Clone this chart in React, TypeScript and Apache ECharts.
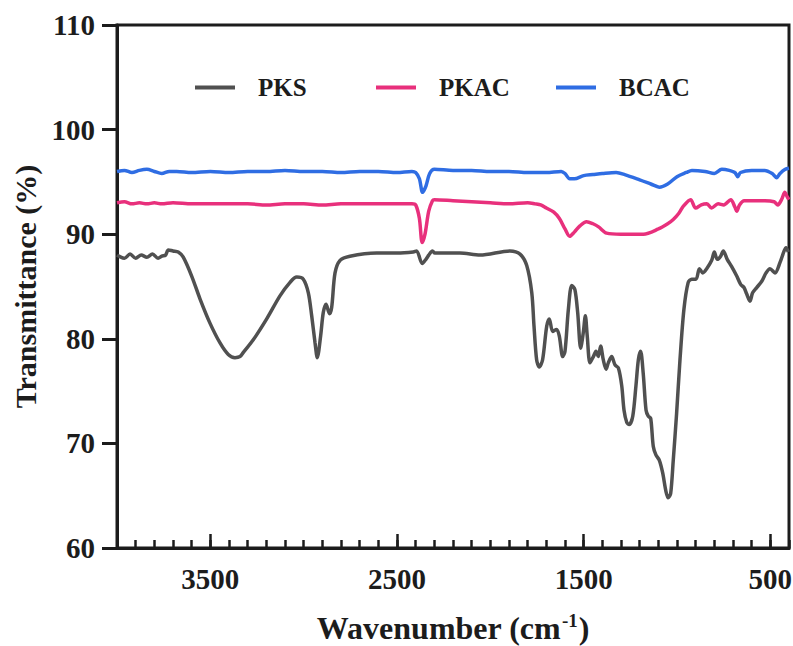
import React, { useEffect, useRef } from "react";
import * as echarts from "echarts";

// ---- data ----
const seriesNames = ["PKS", "PKAC", "BCAC"];
const seriesColors = ["#505050", "#e8307c", "#2f6de3"];

const pksWn = [4000, 3990, 3960, 3930, 3900, 3870, 3840, 3810, 3780, 3760, 3740, 3725, 3700, 3672, 3645, 3600, 3555, 3502, 3448, 3404, 3368, 3341, 3323, 3270, 3198, 3127, 3073, 3037, 3002, 2975, 2957, 2939, 2927, 2909, 2895, 2880, 2862, 2850, 2832, 2805, 2752, 2609, 2500, 2413, 2395, 2365, 2345, 2330, 2310, 2297, 2163, 2055, 1895, 1841, 1805, 1778, 1766, 1752, 1738, 1720, 1698, 1684, 1666, 1645, 1631, 1612, 1600, 1582, 1564, 1547, 1532, 1516, 1502, 1491, 1481, 1466, 1448, 1434, 1422, 1409, 1395, 1380, 1368, 1350, 1332, 1314, 1296, 1284, 1269, 1256, 1237, 1220, 1207, 1195, 1181, 1166, 1154, 1141, 1127, 1113, 1095, 1077, 1059, 1047, 1034, 1020, 1002, 984, 963, 940, 921, 898, 880, 862, 841, 814, 800, 784, 766, 752, 731, 707, 680, 659, 641, 627, 609, 595, 573, 546, 523, 502, 475, 448, 426, 416, 404];
const pksT = [88.0, 87.9, 87.7, 88.1, 87.7, 88.0, 87.8, 88.1, 87.7, 87.9, 88.0, 88.5, 88.4, 88.3, 87.8, 86.0, 83.8, 81.5, 79.6, 78.5, 78.2, 78.3, 78.7, 79.9, 81.9, 84.1, 85.4, 85.9, 85.7, 84.4, 82.2, 79.6, 78.2, 80.3, 82.5, 83.3, 82.4, 83.0, 86.3, 87.5, 87.9, 88.2, 88.2, 88.3, 88.4, 87.2, 87.6, 88.0, 88.4, 88.2, 88.2, 88.0, 88.4, 88.1, 87.0, 84.4, 81.2, 78.0, 77.3, 78.0, 81.2, 81.9, 80.7, 80.9, 80.3, 78.3, 78.8, 82.8, 85.1, 84.7, 82.5, 79.1, 80.6, 82.2, 80.3, 77.7, 78.3, 78.8, 78.3, 79.3, 78.0, 77.1, 77.7, 78.3, 77.5, 77.2, 75.5, 73.2, 72.0, 71.8, 72.6, 75.5, 78.0, 78.8, 76.7, 73.2, 72.6, 72.4, 69.7, 68.9, 68.4, 67.2, 65.4, 64.8, 65.2, 68.4, 72.9, 78.0, 82.8, 85.4, 85.7, 85.7, 86.7, 86.3, 86.7, 87.5, 88.3, 87.6, 87.9, 88.4, 87.6, 86.9, 86.0, 85.2, 84.9, 84.3, 83.6, 84.4, 84.9, 85.5, 86.3, 86.7, 86.3, 87.3, 88.4, 88.7, 88.3];

const pkacWn = [4000, 3960, 3920, 3880, 3840, 3800, 3760, 3700, 3600, 3500, 3400, 3300, 3200, 3100, 3000, 2900, 2800, 2700, 2600, 2500, 2420, 2400, 2380, 2365, 2350, 2330, 2310, 2300, 2200, 2100, 2000, 1900, 1800, 1760, 1730, 1700, 1660, 1630, 1600, 1575, 1550, 1520, 1485, 1450, 1420, 1377, 1300, 1250, 1180, 1100, 1050, 1020, 990, 965, 927, 900, 870, 840, 815, 780, 750, 712, 690, 680, 665, 640, 600, 530, 480, 460, 440, 422, 410, 400];
const pkacT = [93.0, 93.1, 92.9, 93.0, 92.9, 93.0, 92.9, 93.0, 92.9, 92.9, 92.9, 92.9, 92.8, 92.9, 92.9, 92.8, 92.9, 92.9, 92.9, 92.9, 92.9, 92.8, 91.5, 89.2, 90.0, 92.2, 93.2, 93.3, 93.2, 93.1, 93.0, 92.9, 93.0, 92.9, 92.8, 92.5, 92.1, 91.5, 90.5, 89.8, 90.2, 90.8, 91.2, 91.0, 90.7, 90.1, 90.0, 90.0, 90.0, 90.5, 91.0, 91.4, 92.0, 92.7, 93.3, 92.5, 92.8, 92.9, 92.5, 92.9, 92.8, 93.3, 92.6, 92.2, 92.8, 93.2, 93.2, 93.2, 93.1, 92.8, 93.3, 94.0, 93.6, 93.3];

const bcacWn = [4000, 3960, 3920, 3880, 3840, 3800, 3760, 3720, 3680, 3600, 3500, 3400, 3300, 3200, 3100, 3000, 2900, 2800, 2700, 2600, 2500, 2420, 2400, 2380, 2363, 2345, 2325, 2300, 2200, 2100, 2000, 1900, 1800, 1700, 1620, 1600, 1575, 1550, 1500, 1450, 1400, 1326, 1280, 1200, 1140, 1095, 1050, 1000, 950, 920, 850, 800, 760, 720, 690, 675, 660, 600, 530, 490, 466, 448, 420, 400];
const bcacT = [96.0, 96.1, 95.9, 96.1, 96.2, 96.0, 95.8, 96.0, 96.0, 95.9, 96.0, 95.9, 96.0, 96.0, 96.1, 96.0, 96.0, 95.9, 96.0, 96.0, 95.9, 96.0, 95.9, 95.3, 94.0, 94.6, 95.8, 96.2, 96.1, 96.1, 96.0, 96.0, 95.9, 95.9, 96.0, 95.8, 95.3, 95.3, 95.6, 95.7, 95.8, 95.9, 95.7, 95.2, 94.8, 94.5, 94.8, 95.5, 95.9, 96.1, 96.0, 95.8, 96.2, 96.1, 95.9, 95.5, 95.9, 96.1, 96.1, 95.8, 95.4, 95.8, 96.2, 96.3];

const xMajorTicks = [3500, 2500, 1500, 500];
const yTicks = [60, 70, 80, 90, 100, 110];

const FONT = "'Liberation Serif', 'Times New Roman', serif";
const INK = "#1c1c1c";

function zip(xs: number[], ys: number[]) {
  return xs.map((x, i) => [x, ys[i]]);
}

export default function App() {
  const ref = useRef<HTMLDivElement>(null);
  useEffect(() => {
    if (!ref.current) return;
    const chart = echarts.init(ref.current, undefined, { renderer: "svg" });
    const minorTicks: number[] = [];
    for (let v = 400; v <= 4000; v += 100) minorTicks.push(v);
    const allData = [zip(pksWn, pksT), zip(pkacWn, pkacT), zip(bcacWn, bcacT)];
    const legendLeft = [190, 371, 551];
    chart.setOption({
      animation: false,
      backgroundColor: "#ffffff",
      textStyle: { fontFamily: FONT },
      grid: {
        left: 117,
        top: 25,
        right: 4,
        bottom: 98,
        show: true,
        borderColor: INK,
        borderWidth: 3,
        containLabel: false,
        outerBoundsMode: "none",
      },
      legend: seriesNames.map((n, i) => ({
        data: [n],
        left: legendLeft[i],
        top: 70,
        itemWidth: 40,
        itemHeight: 14,
        icon: "path://M0,0 L40,0 L40,4 L0,4 Z",
        textStyle: {
          fontFamily: FONT,
          fontWeight: "bold",
          fontSize: 25,
          color: INK,
          padding: [0, 0, 0, 18],
        },
      })),
      xAxis: [
        {
          type: "value",
          min: 400,
          max: 4000,
          inverse: true,
          position: "bottom",
          name: "{a|Wavenumber (cm}{b|-1}{a|)}",
          nameLocation: "middle",
          nameGap: 63,
          nameTextStyle: {
            rich: {
              a: { fontFamily: FONT, fontWeight: "bold", fontSize: 32, color: INK },
              b: { fontFamily: FONT, fontWeight: "bold", fontSize: 19, color: INK, padding: [0, 1, 15, 1] },
            },
          },
          axisLine: { show: true, lineStyle: { color: INK, width: 3 } },
          axisTick: {
            show: true,
            inside: true,
            length: 14,
            customValues: xMajorTicks,
            lineStyle: { color: INK, width: 2.5 },
          },
          axisLabel: {
            show: true,
            customValues: xMajorTicks,
            formatter: (v: number) => String(v),
            margin: 16,
            fontFamily: FONT,
            fontWeight: "bold",
            fontSize: 29,
            color: INK,
          },
          splitLine: { show: false },
        },
        {
          type: "value",
          min: 400,
          max: 4000,
          inverse: true,
          position: "bottom",
          axisLine: { show: false },
          axisTick: {
            show: true,
            inside: true,
            length: 8,
            customValues: minorTicks,
            lineStyle: { color: INK, width: 2.5 },
          },
          axisLabel: { show: false },
          splitLine: { show: false },
        },
      ],
      yAxis: {
        type: "value",
        min: 60,
        max: 110,
        interval: 10,
        name: "Transmittance (%)",
        nameLocation: "middle",
        nameGap: 70,
        nameTextStyle: { fontFamily: FONT, fontWeight: "bold", fontSize: 30, color: INK },
        axisLine: { show: true, lineStyle: { color: INK, width: 3 } },
        axisTick: { show: true, inside: false, length: 15, lineStyle: { color: INK, width: 3 } },
        axisLabel: {
          margin: 22,
          fontFamily: FONT,
          fontWeight: "bold",
          fontSize: 29,
          color: INK,
          customValues: yTicks,
        },
        splitLine: { show: false },
      },
      series: seriesNames.map((n, i) => ({
        name: n,
        type: "line",
        xAxisIndex: 0,
        data: allData[i],
        symbol: "none",
        smooth: 0.3,
        lineStyle: { color: seriesColors[i], width: 3.5 },
        itemStyle: { color: seriesColors[i] },
        z: 3 - i,
      })),
    });
    return () => chart.dispose();
  }, []);
  return (
    <div
      ref={ref}
      style={{ position: "fixed", left: 0, top: 0, width: 793, height: 646, background: "#fff" }}
    />
  );
}
